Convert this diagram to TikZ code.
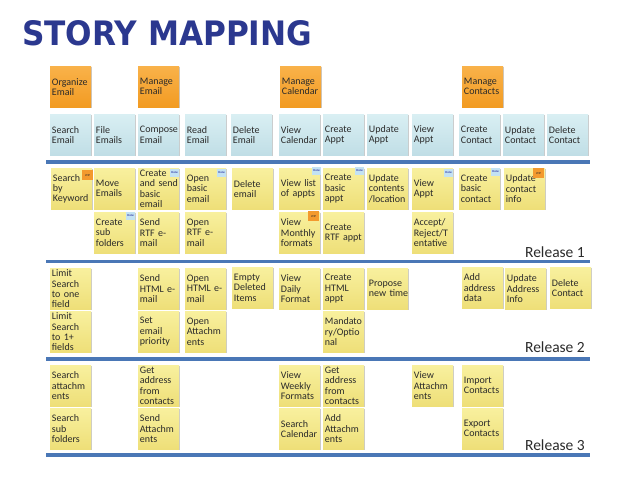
\documentclass[tikz,border=0pt]{standalone}
\usepackage{fontspec}
\setmainfont{Carlito}
\newfontfamily\titlefont{DejaVu Sans}
\usetikzlibrary{shadows}
\hyphenpenalty=10000
\exhyphenpenalty=10000
\definecolor{titleblue}{HTML}{2B388F}
\definecolor{orA}{HTML}{F9B24A}
\definecolor{orB}{HTML}{F29B22}
\definecolor{blA}{HTML}{D9EFF3}
\definecolor{blB}{HTML}{C0DEE6}
\definecolor{yeA}{HTML}{F8F09E}
\definecolor{yeB}{HTML}{EEDF78}
\definecolor{lineblue}{HTML}{4A77B6}
\definecolor{donebg}{HTML}{C3E2F3}
\definecolor{wipbg}{HTML}{F39A2E}
\definecolor{ink}{HTML}{2A2A2A}
\tikzset{
  card/.style={anchor=north west, minimum height=41pt, text width=37.5pt,
    inner xsep=1.75pt, inner ysep=1pt, align=left,
    font=\fontsize{10}{10.2}\selectfont, text=ink,
    drop shadow={shadow xshift=0.8pt, shadow yshift=-1.2pt, opacity=0.35, fill=black!60}},
  ocard/.style={card, top color=orA, bottom color=orB},
  bcard/.style={card, top color=blA, bottom color=blB},
  ycard/.style={card, top color=yeA, bottom color=yeB},
  relline/.style={line width=3.5pt, draw=lineblue},
  donetag/.style={anchor=north east, fill=donebg, text=blue!55!black,
    font=\fontsize{3}{3}\selectfont, inner sep=0.5pt, minimum width=9pt, minimum height=7.5pt},
  wiptag/.style={anchor=north east, fill=wipbg, text=ink,
    font=\fontsize{3}{3}\selectfont, inner sep=0.5pt, minimum width=11pt, minimum height=10pt},
  rel/.style={anchor=east, font=\fontsize{15.5}{16}\selectfont, text=ink, inner sep=0pt}
}
\begin{document}
\begin{tikzpicture}[x=1pt, y=-1pt]
\useasboundingbox (0,0) rectangle (638,479);
% title
\node[anchor=north west, inner sep=0pt, text=titleblue] (title) at (22,20)
  {\resizebox{290pt}{25pt}{\titlefont\bfseries STORY MAPPING}};
% activities
\node[ocard] (o1) at (50,66) {Organize\\Email};
\node[ocard] (o2) at (138,66) {Manage\\Email};
\node[ocard] (o3) at (280,66) {Manage\\Calendar};
\node[ocard] (o4) at (462,66) {Manage\\Contacts};
% tasks
\node[bcard] (b1) at (50,114) {Search\\Email};
\node[bcard] (b2) at (94,114) {File\\Emails};
\node[bcard] (b3) at (138,114) {Compose\\Email};
\node[bcard] (b4) at (185,114) {Read\\Email};
\node[bcard] (b5) at (231,114) {Delete\\Email};
\node[bcard] (b6) at (279,114) {View\\Calendar};
\node[bcard] (b7) at (323,114) {Create\\Appt};
\node[bcard] (b8) at (367,114) {Update\\Appt};
\node[bcard] (b9) at (412,114) {View\\Appt};
\node[bcard] (b10) at (459,114) {Create\\Contact};
\node[bcard] (b11) at (503,114) {Update\\Contact};
\node[bcard] (b12) at (547,114) {Delete\\Contact};
% lines
\coordinate (l1a) at (46,162); \coordinate (l1b) at (590,162);
\coordinate (l2a) at (46,261.5); \coordinate (l2b) at (590,261.5);
\coordinate (l3a) at (46,359); \coordinate (l3b) at (590,359);
\coordinate (l4a) at (46,455); \coordinate (l4b) at (590,455);
\draw[relline] (l1a) -- (l1b);
\draw[relline] (l2a) -- (l2b);
\draw[relline] (l3a) -- (l3b);
\draw[relline] (l4a) -- (l4b);
% release 1
\node[ycard] (r1c1) at (51,168) {Search\\by\\Keyword};
\node[ycard] (r1c2) at (94,168) {Move\\Emails};
\node[ycard] (r1c3) at (138,168) {Create\\and~send\\basic\\email};
\node[ycard] (r1c4) at (185,168) {Open\\basic\\email};
\node[ycard] (r1c5) at (232,168) {Delete\\email};
\node[ycard] (r1c6) at (279,168) {View~list\\of~appts};
\node[ycard] (r1c7) at (323,168) {Create\\basic\\appt};
\node[ycard] (r1c8) at (367,168) {Update\\contents\\/location};
\node[ycard] (r1c9) at (412,168) {View\\Appt};
\node[ycard] (r1c10) at (459,168) {Create\\basic\\contact};
\node[ycard] (r1c11) at (504,168) {Update\\contact\\info};
\node[ycard] (r1d2) at (94,212) {Create\\sub\\folders};
\node[ycard] (r1d3) at (138,212) {Send\\RTF~e-\\mail};
\node[ycard] (r1d4) at (185,212) {Open\\RTF~e-\\mail};
\node[ycard] (r1d6) at (279,212) {View\\Monthly\\formats};
\node[ycard] (r1d7) at (323,212) {Create\\RTF~appt};
\node[ycard] (r1d9) at (412,212) {Accept/\\Reject/T\\entative};
\node[wiptag] (t1) at ([xshift=1pt,yshift=-2pt]r1c1.north east) {WIP};
\node[donetag] (t2) at ([yshift=-1pt]r1c3.north east) {Done};
\node[donetag] (t3) at ([yshift=-1pt]r1c4.north east) {Done};
\node[donetag] (t4) at ([xshift=1pt,yshift=1pt]r1c6.north east) {Done};
\node[donetag] (t5) at ([yshift=1pt]r1c7.north east) {Done};
\node[donetag] (t6) at ([yshift=-1pt]r1c9.north east) {Done};
\node[donetag] (t7) at ([yshift=0pt]r1c10.north east) {Done};
\node[wiptag] (t8) at ([xshift=-1pt,yshift=0pt]r1c11.north east) {WIP};
\node[donetag] (t9) at ([yshift=0pt]r1d2.north east) {Done};
\node[wiptag] (t10) at ([xshift=-1pt,yshift=1pt]r1d6.north east) {WIP};
\node[rel] (rel1) at (585,252) {Release 1};
% release 2
\node[ycard] (r2c1) at (50,268) {Limit\\Search\\to~one\\field};
\node[ycard] (r2c3) at (138,268) {Send\\HTML~e-\\mail};
\node[ycard] (r2c4) at (185,268) {Open\\HTML~e-\\mail};
\node[ycard] (r2c5) at (232,267) {Empty\\Deleted\\Items};
\node[ycard] (r2c6) at (279,268) {View\\Daily\\Format};
\node[ycard] (r2c7) at (323,268) {Create\\HTML\\appt};
\node[ycard] (r2c8) at (367,268) {Propose\\new~time};
\node[ycard] (r2c10) at (462,267) {Add\\address\\data};
\node[ycard] (r2c11) at (505,268) {Update\\Address\\Info};
\node[ycard] (r2c12) at (550,267) {Delete\\Contact};
\node[ycard] (r2d1) at (50,311) {Limit\\Search\\to~1+\\fields};
\node[ycard] (r2d3) at (138,311) {Set\\email\\priority};
\node[ycard] (r2d4) at (185,311) {Open\\Attachm\\ents};
\node[ycard] (r2d7) at (323,311) {Mandato\\ry/Optio\\nal};
\node[rel] (rel2) at (585,347) {Release 2};
% release 3
\node[ycard] (r3c1) at (50,365) {Search\\attachm\\ents};
\node[ycard] (r3c3) at (138,365) {Get\\address\\from\\contacts};
\node[ycard] (r3c6) at (279,365) {View\\Weekly\\Formats};
\node[ycard] (r3c7) at (323,365) {Get\\address\\from\\contacts};
\node[ycard] (r3c9) at (412,365) {View\\Attachm\\ents};
\node[ycard] (r3c10) at (462,365) {Import\\Contacts};
\node[ycard] (r3d1) at (50,408) {Search\\sub\\folders};
\node[ycard] (r3d3) at (138,408) {Send\\Attachm\\ents};
\node[ycard] (r3d6) at (279,408) {Search\\Calendar};
\node[ycard] (r3d7) at (323,408) {Add\\Attachm\\ents};
\node[ycard] (r3d10) at (462,408) {Export\\Contacts};
\node[rel] (rel3) at (585,445) {Release 3};
\end{tikzpicture}
\end{document}
